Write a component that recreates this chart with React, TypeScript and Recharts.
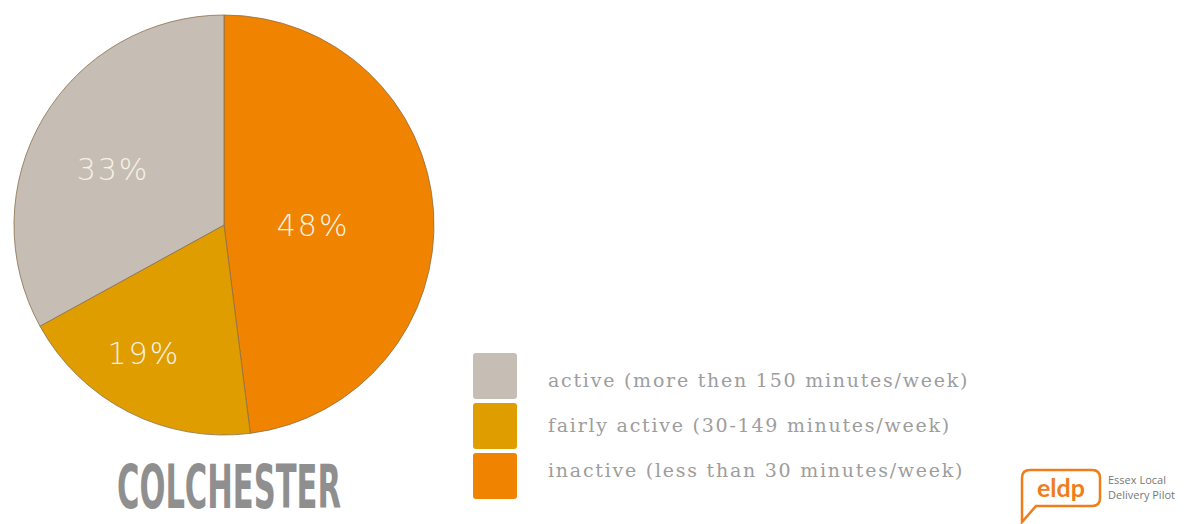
import React from 'react';
import { PieChart, Pie, Cell, Legend } from 'recharts';

const categories = [
  'inactive (less than 30 minutes/week)',
  'fairly active (30-149 minutes/week)',
  'active (more then 150 minutes/week)',
];
const shares = [48, 19, 33];
const colors = ['#f08300', '#e09d00', '#c6beb4'];
const legendOrder = [2, 1, 0];
const areaName = 'COLCHESTER';

const data = categories.map((name, i) => ({ name, value: shares[i] }));

// label placement per slice: share of radius, and angle shift from the slice middle
const LABEL_RADIUS = [0.424, 0.72, 0.59];
const LABEL_SHIFT = [-3.6, -5, 4.2];
// legend texts sit a little tighter than the swatches
const TEXT_NUDGE = [1, -4, -9];
const RAD = Math.PI / 180;

const renderLabel = (props: any) => {
  const { cx, cy, midAngle, outerRadius, index, value } = props;
  const r = outerRadius * LABEL_RADIUS[index];
  const a = (midAngle + LABEL_SHIFT[index]) * RAD;
  const x = cx + r * Math.cos(-a);
  const y = cy + r * Math.sin(-a);
  return (
    <text
      x={x}
      y={y}
      fill="#f7f1e6"
      textAnchor="middle"
      dominantBaseline="central"
      style={{ fontFamily: 'DejaVu Sans, sans-serif', fontSize: 30, fontWeight: 200, letterSpacing: 2 }}
    >
      {value}%
    </text>
  );
};

const renderLegend = () => (
  <div style={{ display: 'flex', flexDirection: 'column', gap: 4 }}>
    {legendOrder.map((i, row) => (
      <div key={i} style={{ display: 'flex', alignItems: 'center', height: 46 }}>
        <div style={{ width: 44, height: 46, borderRadius: 3, background: colors[i] }} />
        <span
          style={{
            marginLeft: 31,
            paddingTop: 6,
            position: 'relative',
            top: TEXT_NUDGE[row],
            fontFamily: 'DejaVu Serif, serif',
            fontSize: 19,
            color: '#9d9d9d',
            letterSpacing: 1.75,
          }}
        >
          {categories[i]}
        </span>
      </div>
    ))}
  </div>
);

export default function App() {
  return (
    <div style={{ position: 'absolute', left: 0, top: 0, width: 1192, height: 524, background: '#fff' }}>
      <PieChart width={1192} height={524} margin={{ top: 0, right: 0, bottom: 0, left: 0 }}>
        <Pie
          data={data}
          dataKey="value"
          nameKey="name"
          cx={224}
          cy={225}
          outerRadius={210}
          startAngle={90}
          endAngle={-270}
          stroke="#8c6e4a"
          strokeWidth={0.8}
          label={renderLabel}
          labelLine={false}
          isAnimationActive={false}
        >
          {data.map((d, i) => (
            <Cell key={d.name} fill={colors[i]} />
          ))}
        </Pie>
        <Legend
          content={renderLegend}
          layout="vertical"
          wrapperStyle={{ position: 'absolute', left: 473, top: 353, width: 620 }}
        />
      </PieChart>

      <svg style={{ position: 'absolute', left: 0, top: 0 }} width={1192} height={524}>
        <text
          x={117}
          y={508}
          textLength={224}
          lengthAdjust="spacingAndGlyphs"
          fill="#8f8f8f"
          style={{ fontFamily: 'Liberation Sans Narrow, DejaVu Sans Condensed, sans-serif', fontSize: 61, fontWeight: 700 }}
        >
          {areaName}
        </text>
        {/* eldp logo */}
        <path
          d="M1030 470 H1092 Q1100 470 1100 478 V498 Q1100 506 1092 506 H1036 L1022 522 V478 Q1022 470 1030 470 Z"
          fill="none"
          stroke="#ef7d1a"
          strokeWidth={2.5}
        />
        <text x={1061} y={497} textAnchor="middle" fill="#ef7d1a" style={{ fontFamily: 'Lato, sans-serif', fontSize: 25, fontWeight: 700 }}>
          eldp
        </text>
        <text x={1108} y={484} fill="#777" style={{ fontFamily: 'Open Sans, sans-serif', fontSize: 11 }}>
          Essex Local
        </text>
        <text x={1108} y={499} fill="#777" style={{ fontFamily: 'Open Sans, sans-serif', fontSize: 11 }}>
          Delivery Pilot
        </text>
      </svg>
    </div>
  );
}
